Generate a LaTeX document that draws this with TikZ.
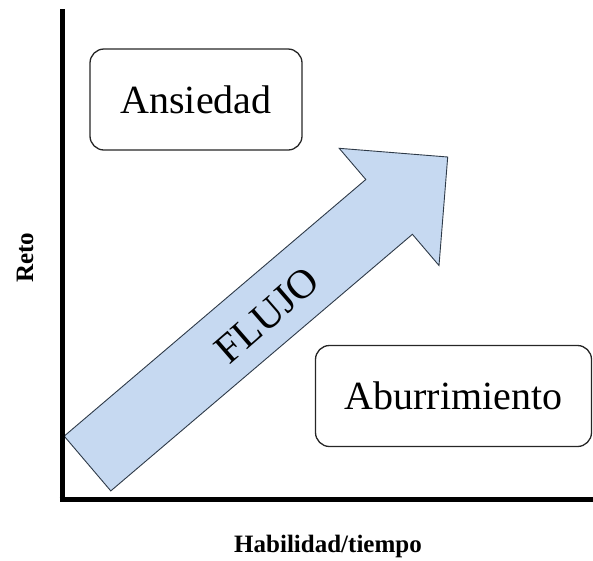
\documentclass[tikz,border=0pt]{standalone}
\usepackage{fontspec}
\setmainfont{Liberation Serif}
\definecolor{flowfill}{HTML}{C6D9F1}
\definecolor{flowline}{HTML}{2E3A48}
\begin{document}
\begin{tikzpicture}[x=1pt,y=-1pt,
  zone/.style={draw=black!85, line width=1.3pt, rounded corners=14pt, inner sep=0pt, font=\fontsize{40}{40}\selectfont},
  axislabel/.style={font=\bfseries\fontsize{25}{25}\selectfont, inner sep=0pt},
  axisline/.style={line width=5pt}]
\useasboundingbox (0,0) rectangle (593,560);
% arrow
\draw[fill=flowfill, draw=flowline, line width=0.9pt, line join=miter]
  (64.2,436.1) -- (365.8,179.5) -- (339.2,148.3) -- (447.7,157.0) -- (439.0,265.5) -- (412.4,234.3) -- (110.8,490.9) -- cycle;
\node[rotate=41, font=\fontsize{41}{41}\selectfont, inner sep=0pt] (flujo) at (267,315) {FLUJO};
% axes
\coordinate (origin) at (62,502);
\coordinate (ytop) at (62,9);
\coordinate (xstart) at (59.5,499.5);
\coordinate (xend) at (593,499.5);
\draw[axisline] (ytop) -- (origin);
\draw[axisline] (xstart) -- (xend);
% zones
\node[zone, minimum width=212pt, minimum height=101pt] (ans) at (196,99.5) {Ansiedad};
\node[zone, minimum width=276pt, minimum height=101pt] (abu) at (453.5,396) {Aburrimiento};
% labels
\node[axislabel, rotate=90] (reto) at (25,258) {Reto};
\node[axislabel] (hab) at (328,546) {Habilidad/tiempo};
\end{tikzpicture}
\end{document}
